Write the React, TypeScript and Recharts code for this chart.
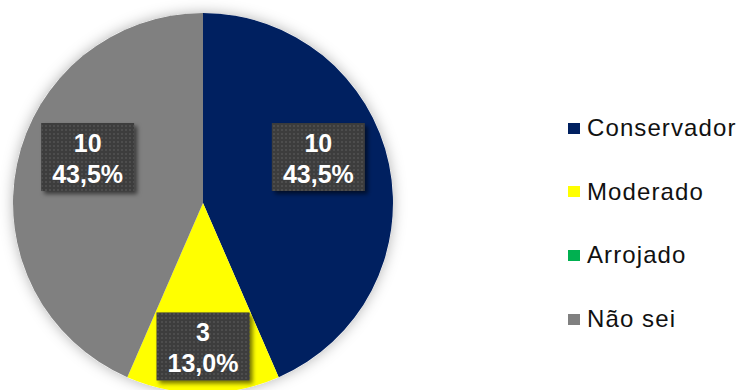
import React from 'react';
import { PieChart, Pie, Cell, Legend } from 'recharts';

const categories = ['Conservador', 'Moderado', 'Arrojado', 'Não sei'];
const counts = [10, 3, 0, 10];
const colors = ['#002060', '#FFFF00', '#00B050', '#808080'];

const data = categories.map((name, i) => ({ name, value: counts[i] }));
const backdrop = [{ name: 'all', value: 1 }];

const RAD = Math.PI / 180;
const FONT = '"Liberation Sans", Arial, sans-serif';

const renderLabel = (props: any) => {
  const { cx, cy, midAngle, outerRadius, percent, value } = props;
  if (!value) return null;
  const small = percent < 0.2;
  const r = outerRadius * (small ? 0.755 : 0.62);
  const x = cx + r * Math.cos(-midAngle * RAD);
  const y = cy + r * Math.sin(-midAngle * RAD) + (small ? 0 : -22);
  const w = 93;
  const h = 68;
  const pct = (percent * 100).toFixed(1).replace('.', ',') + '%';
  return (
    <g>
      <rect x={x - w / 2} y={y - h / 2} width={w} height={h} fill="#3d3d3d" filter="url(#boxShadow)" />
      <rect x={x - w / 2} y={y - h / 2} width={w} height={h} fill="url(#dots)" />
      <text x={x} y={y - 5} textAnchor="middle" fill="#ffffff" fontFamily={FONT} fontWeight="bold" fontSize={25}>
        {value}
      </text>
      <text x={x} y={y + 26} textAnchor="middle" fill="#ffffff" fontFamily={FONT} fontWeight="bold" fontSize={25}>
        {pct}
      </text>
    </g>
  );
};

const renderLegend = () => (
  <div style={{ position: 'relative', width: 742, height: 390 }}>
    {categories.map((name, i) => {
      const top = 128 + i * 63.7;
      return (
        <div key={name} style={{ position: 'absolute', left: 568, top: top - 15, height: 30, display: 'flex', alignItems: 'center' }}>
          <div style={{ width: 12, height: 11, background: colors[i], marginRight: 7 }} />
          <span style={{ fontFamily: FONT, fontSize: 24, color: '#111', letterSpacing: 1.1, lineHeight: '30px', whiteSpace: 'nowrap' }}>{name}</span>
        </div>
      );
    })}
  </div>
);

export default function App() {
  return (
    <div style={{ position: 'absolute', left: 0, top: 0, width: 742, height: 390, background: '#fff', overflow: 'hidden' }}>
      <svg width={0} height={0} style={{ position: 'absolute' }}>
        <defs>
          <pattern id="dots" x={0} y={0} width={4} height={4} patternUnits="userSpaceOnUse">
            <rect x={1} y={1} width={2} height={2} fill="#4d4d4d" />
          </pattern>
          <filter id="boxShadow" x="-20%" y="-20%" width="150%" height="150%">
            <feDropShadow dx={3} dy={3} stdDeviation={2} floodColor="#000" floodOpacity={0.55} />
          </filter>
          <filter id="pieGlow" x="-20%" y="-20%" width="140%" height="140%">
            <feDropShadow dx={0} dy={0} stdDeviation={7} floodColor="#000" floodOpacity={0.3} />
          </filter>
        </defs>
      </svg>
      <PieChart width={742} height={390} margin={{ top: 0, right: 0, bottom: 0, left: 0 }}>
        <Pie
          data={backdrop}
          dataKey="value"
          cx={203}
          cy={203}
          outerRadius={190}
          startAngle={90}
          endAngle={-270}
          stroke="none"
          isAnimationActive={false}
          legendType="none"
        >
          <Cell fill="#ffffff" filter="url(#pieGlow)" />
        </Pie>
        <Pie
          data={data}
          dataKey="value"
          nameKey="name"
          cx={203}
          cy={203}
          outerRadius={190}
          startAngle={90}
          endAngle={-270}
          stroke="none"
          labelLine={false}
          label={renderLabel}
          isAnimationActive={false}
        >
          {data.map((d, i) => (
            <Cell key={d.name} fill={colors[i]} />
          ))}
        </Pie>
        <Legend content={renderLegend} wrapperStyle={{ position: 'absolute', left: 0, top: 0, width: 742, height: 390 }} />
      </PieChart>
    </div>
  );
}
